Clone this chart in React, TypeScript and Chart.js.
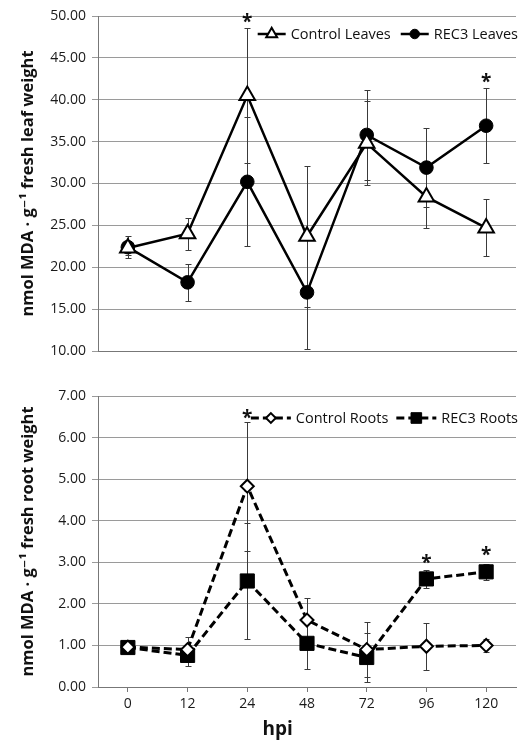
import React, { useEffect, useRef } from 'react';
import { Chart, registerables } from 'chart.js';
import { drawPoint } from 'chart.js/helpers';

Chart.register(...registerables);

// ---------- data ----------
const hpi = ['0', '12', '24', '48', '72', '96', '120'];

const controlLeaves = [22.3, 24.0, 40.5, 23.7, 34.8, 28.4, 24.7];
const controlLeavesErr = [0.8, 1.9, 8.1, 8.4, 5.0, 3.7, 3.4];
const rec3Leaves = [22.4, 18.2, 30.2, 17.0, 35.8, 31.9, 36.9];
const rec3LeavesErr = [1.3, 2.2, 7.7, 6.8, 5.4, 4.7, 4.5];
const leafStars = [null, null, 49.8, null, null, null, 42.7];

const controlRoots = [0.96, 0.9, 4.83, 1.61, 0.9, 0.98, 1.0];
const controlRootsErr = [0.1, 0.3, 1.55, 0.53, 0.67, 0.57, 0.15];
const rec3Roots = [0.95, 0.76, 2.55, 1.05, 0.71, 2.6, 2.77];
const rec3RootsErr = [0.1, 0.25, 1.4, 0.62, 0.58, 0.22, 0.2];
const rootStars = [null, null, 6.58, null, null, 3.09, 3.29];

const FONT = '"Open Sans", "DejaVu Sans", sans-serif';

// ---------- plugins ----------
const errorBarPlugin = {
  id: 'errorBars',
  beforeDatasetsDraw(chart: any) {
    const { ctx } = chart;
    const xs = chart.scales.x;
    const ys = chart.scales.y;
    ctx.save();
    ctx.strokeStyle = '#3a3a3a';
    ctx.lineWidth = 1;
    chart.data.datasets.forEach((ds: any) => {
      const errs = ds.errors;
      if (!errs) return;
      ds.data.forEach((v: number, j: number) => {
        const e = errs[j];
        const px = Math.round(xs.getPixelForValue(j)) + 0.5;
        const top = Math.round(ys.getPixelForValue(v + e)) + 0.5;
        const bot = Math.round(ys.getPixelForValue(v - e)) + 0.5;
        ctx.beginPath();
        ctx.moveTo(px, top);
        ctx.lineTo(px, bot);
        ctx.moveTo(px - 3, top);
        ctx.lineTo(px + 3, top);
        ctx.moveTo(px - 3, bot);
        ctx.lineTo(px + 3, bot);
        ctx.stroke();
      });
    });
    ctx.restore();
  },
};

const starPlugin = {
  id: 'stars',
  afterDatasetsDraw(chart: any, _args: any, opts: any) {
    const vals = opts.values || [];
    const { ctx } = chart;
    ctx.save();
    ctx.fillStyle = '#111';
    ctx.font = `bold 19px ${FONT}`;
    ctx.textAlign = 'center';
    ctx.textBaseline = 'middle';
    vals.forEach((v: number | null, j: number) => {
      if (v == null) return;
      const px = chart.scales.x.getPixelForValue(j);
      const py = chart.scales.y.getPixelForValue(v);
      ctx.fillText('*', px, py + 5);
    });
    ctx.restore();
  },
};

const legendPlugin = {
  id: 'inlineLegend',
  afterDraw(chart: any, _args: any, opts: any) {
    const { ctx, chartArea } = chart;
    ctx.save();
    ctx.font = `${opts.fontSize}px ${FONT}`;
    const items = chart.data.datasets.map((ds: any) => ({ ds, w: ctx.measureText(ds.label).width }));
    const total =
      items.reduce((s: number, it: any) => s + opts.lineLen + opts.gap + it.w, 0) +
      opts.itemGap * (items.length - 1);
    let x = chartArea.right + opts.rightShift - total;
    const y = chartArea.top + opts.dy;
    items.forEach(({ ds, w }: any) => {
      ctx.strokeStyle = ds.borderColor;
      ctx.lineWidth = ds.borderWidth;
      ctx.setLineDash(ds.borderDash || []);
      ctx.beginPath();
      ctx.moveTo(x, y);
      ctx.lineTo(x + opts.lineLen, y);
      ctx.stroke();
      ctx.setLineDash([]);
      ctx.fillStyle = ds.pointBackgroundColor;
      ctx.strokeStyle = ds.pointBorderColor;
      ctx.lineWidth = ds.pointBorderWidth;
      drawPoint(
        ctx,
        { pointStyle: ds.pointStyle, radius: ds.pointRadius * opts.markerScale, rotation: 0, borderWidth: ds.pointBorderWidth } as any,
        x + opts.lineLen / 2,
        y
      );
      ctx.fillStyle = '#111';
      ctx.textBaseline = 'middle';
      ctx.textAlign = 'left';
      ctx.fillText(ds.label, x + opts.lineLen + opts.gap, y + 1);
      x += opts.lineLen + opts.gap + w + opts.itemGap;
    });
    ctx.restore();
  },
};

const xTitlePlugin = {
  id: 'xTitle',
  afterDraw(chart: any, _args: any, opts: any) {
    if (!opts.text) return;
    const { ctx, chartArea } = chart;
    ctx.save();
    ctx.font = `bold 19px ${FONT}`;
    ctx.fillStyle = '#111';
    ctx.textAlign = 'center';
    ctx.textBaseline = 'middle';
    ctx.fillText(opts.text, chartArea.left + chartArea.width * opts.frac, chartArea.bottom + opts.dy);
    ctx.restore();
  },
};

// ---------- config ----------
function makeConfig(p: any) {
  return {
    type: 'line',
    data: { labels: hpi, datasets: p.datasets },
    plugins: [errorBarPlugin, starPlugin, legendPlugin, xTitlePlugin],
    options: {
      responsive: false,
      animation: false,
      devicePixelRatio: 1,
      layout: { padding: { left: 8, right: 9, top: p.padTop, bottom: 0 } },
      plugins: {
        legend: { display: false },
        tooltip: { enabled: false },
        stars: { values: p.stars },
        inlineLegend: p.legend,
        xTitle: p.xTitle,
      },
      scales: {
        x: {
          type: 'category',
          offset: true,
          grid: { display: true, drawOnChartArea: false, drawTicks: p.showX, tickLength: 5, color: '#777' },
          border: { display: true, color: '#777', width: 1 },
          ticks: { display: p.showX, color: '#1a1a1a', font: { family: FONT, size: 14 }, padding: 4, maxRotation: 0 },
          afterFit: (s: any) => {
            s.height = p.xHeight;
          },
        },
        y: {
          min: p.min,
          max: p.max,
          ticks: {
            stepSize: p.step,
            color: '#1a1a1a',
            font: { family: FONT, size: 14 },
            padding: 6,
            callback: (v: number) => v.toFixed(2),
          },
          grid: { color: '#9a9a9a', lineWidth: 1, tickLength: 6, drawTicks: true },
          border: { display: true, color: '#777', width: 1 },
          title: {
            display: true,
            text: p.yTitle,
            color: '#111',
            font: { family: FONT, size: 16.5, weight: 'bold' },
            padding: { top: 10, bottom: 0 },
          },
          afterFit: (s: any) => {
            s.width = 90;
          },
        },
      },
    },
  };
}

function ChartCanvas({ config, height }: { config: any; height: number }) {
  const ref = useRef<HTMLCanvasElement | null>(null);
  useEffect(() => {
    if (!ref.current) return;
    const chart = new Chart(ref.current, config);
    return () => chart.destroy();
  }, []);
  return <canvas ref={ref} width={527} height={height} style={{ display: 'block', width: 527, height }} />;
}

export default function App() {
  useEffect(() => {
    document.body.style.margin = '0';
  }, []);

  const topConfig = makeConfig({
    datasets: [
      {
        label: 'Control Leaves',
        data: controlLeaves,
        errors: controlLeavesErr,
        borderColor: '#000',
        borderWidth: 2.5,
        pointStyle: 'triangle',
        pointRadius: 9,
        pointBackgroundColor: '#fff',
        pointBorderColor: '#000',
        pointBorderWidth: 2,
        tension: 0,
      },
      {
        label: 'REC3 Leaves',
        data: rec3Leaves,
        errors: rec3LeavesErr,
        borderColor: '#000',
        borderWidth: 2.5,
        pointStyle: 'circle',
        pointRadius: 6.8,
        pointBackgroundColor: '#000',
        pointBorderColor: '#000',
        pointBorderWidth: 1,
        tension: 0,
      },
    ],
    min: 10,
    max: 50,
    step: 5,
    yTitle: 'nmol MDA · g⁻¹ fresh leaf weight',
    showX: false,
    xHeight: 19,
    padTop: 16,
    stars: leafStars,
    legend: { fontSize: 14.5, lineLen: 28, gap: 5, itemGap: 10, rightShift: 2, dy: 18, markerScale: 0.7 },
    xTitle: { text: '' },
  });

  const bottomConfig = makeConfig({
    datasets: [
      {
        label: 'Control Roots',
        data: controlRoots,
        errors: controlRootsErr,
        borderColor: '#000',
        borderWidth: 3,
        borderDash: [8, 4],
        pointStyle: 'rectRot',
        pointRadius: 6.5,
        pointBackgroundColor: '#fff',
        pointBorderColor: '#000',
        pointBorderWidth: 2,
        tension: 0,
      },
      {
        label: 'REC3 Roots',
        data: rec3Roots,
        errors: rec3RootsErr,
        borderColor: '#000',
        borderWidth: 3,
        borderDash: [8, 4],
        pointStyle: 'rect',
        pointRadius: 10,
        pointBackgroundColor: '#000',
        pointBorderColor: '#000',
        pointBorderWidth: 1,
        tension: 0,
      },
    ],
    min: 0,
    max: 7,
    step: 1,
    yTitle: 'nmol MDA · g⁻¹ fresh root weight',
    showX: true,
    xHeight: 55,
    padTop: 26,
    stars: rootStars,
    legend: { fontSize: 14.5, lineLen: 40, gap: 5, itemGap: 8, rightShift: 2, dy: 22, markerScale: 0.75 },
    xTitle: { text: 'hpi', frac: 0.43, dy: 43 },
  });

  return (
    <div style={{ width: 527, height: 742, background: '#fff' }}>
      <ChartCanvas config={topConfig} height={370} />
      <ChartCanvas config={bottomConfig} height={372} />
    </div>
  );
}
